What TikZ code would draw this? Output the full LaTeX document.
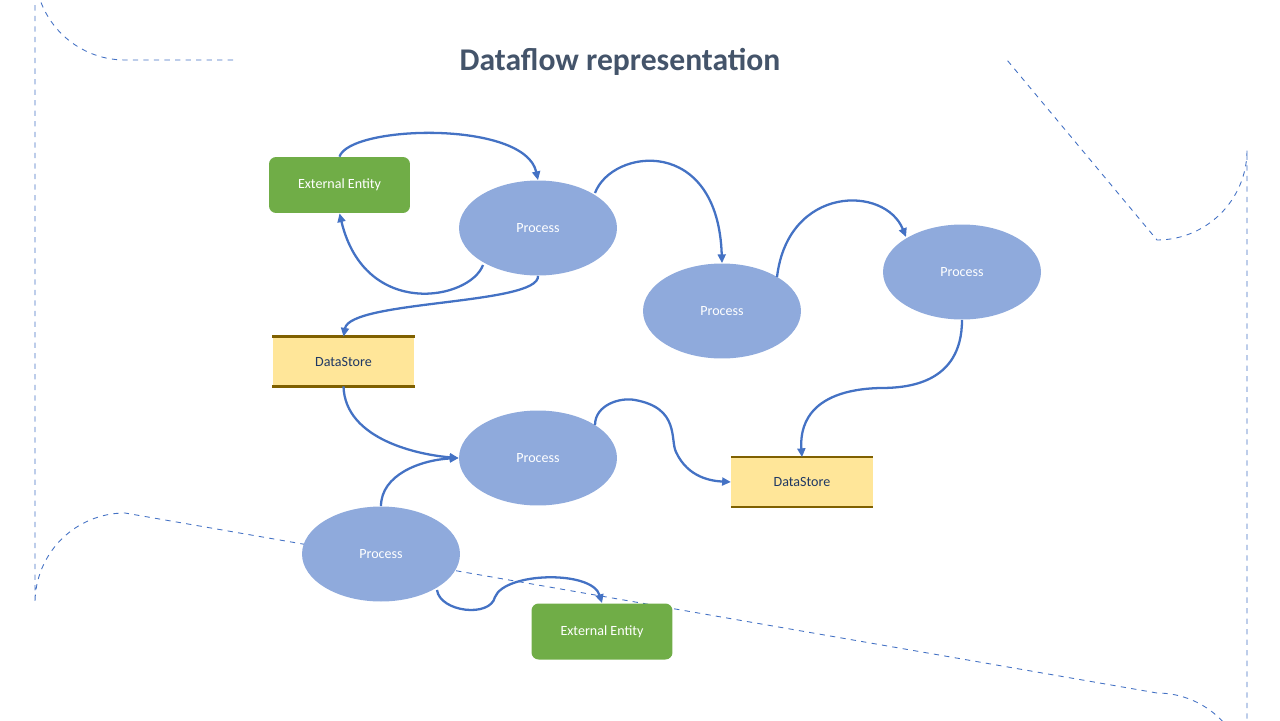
\documentclass[tikz,border=0pt]{standalone}
\usepackage{fontspec}
\setmainfont{Carlito}
\usetikzlibrary{shapes.geometric,arrows.meta}
\definecolor{ttl}{HTML}{44546A}
\definecolor{eg}{HTML}{70AD47}
\definecolor{pb}{HTML}{8FAADC}
\definecolor{ln}{HTML}{4472C4}
\definecolor{dsf}{HTML}{FFE699}
\definecolor{dsl}{HTML}{7F6000}
\definecolor{dst}{HTML}{1F3864}
\begin{document}
\begin{tikzpicture}[x=0.02cm,y=-0.02cm,
 ee/.style={rectangle,rounded corners=4pt,fill=eg,text=white,minimum width=2.82cm,minimum height=1.12cm,font=\fontsize{8}{9}\selectfont},
 pr/.style={ellipse,fill=pb,text=white,minimum width=3.16cm,minimum height=1.9cm,inner sep=0pt,font=\fontsize{8}{9}\selectfont},
 ds/.style={rectangle,fill=dsf,text=dst,minimum width=2.83cm,minimum height=0.98cm,font=\fontsize{8}{9}\selectfont},
 fl/.style={draw=ln,line width=1.3pt,-{Triangle[length=5pt,width=4.5pt]}}]
\useasboundingbox (0,0) rectangle (1280,720);
\draw[ln,dashed,line width=0.5pt] (233,60) -- (125,60) arc[start angle=90,end angle=180,radius=90] -- (35,603) arc[start angle=180,end angle=270,radius=90] -- (1157,693) arc[start angle=270,end angle=360,radius=90] -- (1247,150) arc[start angle=0,end angle=90,radius=90] -- (1007,60);
\node[font=\fontsize{18}{20}\selectfont\bfseries,text=ttl] (title) at (620,62) {Dataflow representation};
\node[ee] (e1) at (339.5,185) {External Entity};
\node[ee] (e2) at (602,631.5) {External Entity};
\node[pr] (p1) at (538,228) {Process};
\node[pr] (p2) at (722,311) {Process};
\node[pr] (p3) at (962,272) {Process};
\node[pr] (p4) at (538,458) {Process};
\node[pr] (p5) at (381,554) {Process};
\node[ds] (d1) at (343.5,361.5) {DataStore};
\node[ds] (d2) at (802,482) {DataStore};
\foreach \d in {d1,d2}{\draw[dsl,line width=1.4pt] (\d.north west) -- (\d.north east) (\d.south west) -- (\d.south east);}
\draw[fl] (e1.north) .. controls (350,125) and (525,120) .. (p1.north);
\draw[fl] (595,193) .. controls (612,148) and (718,135) .. (p2.north);
\draw[fl] (777,277) .. controls (788,185) and (885,185) .. (906,237);
\draw[fl] (483,265) .. controls (470,300) and (365,320) .. (e1.south);
\draw[fl] (p1.south) .. controls (540,305) and (350,300) .. (d1.north);
\draw[fl] (p3.south) .. controls (962,385) and (905,388) .. (880,388) .. controls (805,390) and (800,430) .. (d2.north);
\draw[fl] (d1.south) .. controls (345,440) and (420,455) .. (p4.west);
\draw[fl] (595,425) .. controls (595,405) and (620,397) .. (635,400) .. controls (680,408) and (670,440) .. (676,452) .. controls (688,478) and (712,481) .. (d2.west);
\draw[fl] (p5.north) .. controls (381,475) and (420,460) .. (p4.west);
\draw[fl] (437,590) .. controls (440,612) and (490,618) .. (495,597) .. controls (505,572) and (592,570) .. (e2.north);
\end{tikzpicture}
\end{document}
